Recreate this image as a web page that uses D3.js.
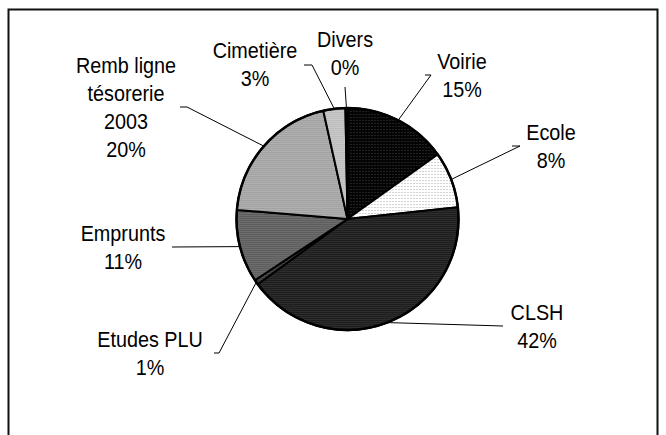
<!DOCTYPE html>
<html>
<head>
<meta charset="utf-8">
<script src="https://cdn.jsdelivr.net/npm/d3@7"></script>
<style>
  body { margin: 0; background: #fff; }
  text { font-family: "Liberation Sans", Arial, sans-serif; font-size: 22px; fill: #000; }
</style>
</head>
<body>
<div id="chart"></div>
<script>
// data, clockwise from 12 o'clock
var categories = ["Voirie", "Ecole", "CLSH", "Etudes PLU", "Emprunts", "Remb ligne\ntésorerie\n2003", "Cimetière", "Divers"];
var values = [15.1, 8.2, 41.7, 0.7, 10.6, 20.2, 3.2, 0.3];

// label layout: centre x, centre y of first line
var labelPos = [[462, 61], [551, 132], [537, 312], [150, 339], [123, 233], [126, 65], [255, 50], [345, 39]];
// where each leader line starts (near the label), [x0, x1, y]
var leaderStart = [[425, 431, 75], [512, 520, 146], [503, 503, 326], [214, 219, 353], [172, 172, 247], [180, 187, 107], [304, 312, 65], [345, 345, 87]];

var width = 666, height = 435;
var cx = 347.5, cy = 219, r = 111;
var lineH = 28;
var squeeze = 0.9; // the text in the picture is a bit narrow

var svg = d3.select("#chart").append("svg")
    .attr("width", width)
    .attr("height", height);

// textures like the old excel fills
var defs = svg.append("defs");
var fills = [
    {id: "p0", base: "#050505", dot: "#3a3a3a", size: 3},
    {id: "p1", base: "#ffffff", dot: "#a8a8a8", size: 3},
    {id: "p2", base: "#1e1e1e", dot: "#3c3c3c", size: 2},
    {id: "p3", base: "#3a3a3a", dot: "#555555", size: 2},
    {id: "p4", base: "#5e5e5e", dot: "#7c7c7c", size: 2},
    {id: "p5", base: "#a2a2a2", dot: "#bdbdbd", size: 2},
    {id: "p6", base: "#bcbcbc", dot: "#d6d6d6", size: 2},
    {id: "p7", base: "#808080", dot: "#a0a0a0", size: 2}
];
fills.forEach(function(f) {
    var p = defs.append("pattern")
        .attr("id", f.id)
        .attr("patternUnits", "userSpaceOnUse")
        .attr("width", f.size)
        .attr("height", f.size);
    p.append("rect").attr("width", f.size).attr("height", f.size).attr("fill", f.base);
    p.append("rect").attr("width", 1).attr("height", 1).attr("fill", f.dot);
});

// frame (image is cropped at the bottom)
svg.append("path")
    .attr("d", "M8.5,440V9.5H657.5V440")
    .attr("fill", "none")
    .attr("stroke", "#111")
    .attr("stroke-width", 2);

var data = categories.map(function(c, i) { return {name: c, value: values[i], i: i}; });
var total = d3.sum(values);

var pie = d3.pie().sort(null).value(function(d) { return d.value; });
var arc = d3.arc().innerRadius(0).outerRadius(r);
var edge = d3.arc().innerRadius(r).outerRadius(r);

var arcs = pie(data);

var g = svg.append("g").attr("transform", "translate(" + cx + "," + cy + ")");

g.selectAll("path.slice")
    .data(arcs)
    .enter()
    .append("path")
    .attr("class", "slice")
    .attr("d", arc)
    .attr("fill", function(d) { return "url(#p" + d.data.i + ")"; })
    .attr("stroke", "#000")
    .attr("stroke-width", 2)
    .attr("stroke-linejoin", "round");

// outer rim a bit heavier
g.append("circle")
    .attr("r", r)
    .attr("fill", "none")
    .attr("stroke", "#000")
    .attr("stroke-width", 2.5);

// leader lines
svg.selectAll("path.leader")
    .data(arcs)
    .enter()
    .append("path")
    .attr("class", "leader")
    .attr("fill", "none")
    .attr("stroke", "#000")
    .attr("stroke-width", 1)
    .attr("d", function(d) {
        var s = leaderStart[d.data.i];
        var e = edge.centroid(d);
        return "M" + s[0] + "," + s[2] + "L" + s[1] + "," + s[2] + "L" + (cx + e[0]) + "," + (cy + e[1]);
    });

// labels
arcs.forEach(function(d) {
    var i = d.data.i;
    var lines = d.data.name.split("\n");
    lines.push(Math.round(d.data.value / total * 100) + "%");
    var t = svg.append("text")
        .attr("text-anchor", "middle")
        .attr("transform", "translate(" + labelPos[i][0] + "," + labelPos[i][1] + ") scale(" + squeeze + ",1)");
    lines.forEach(function(l, k) {
        t.append("tspan")
            .attr("x", 0)
            .attr("y", k * lineH)
            .attr("dy", "0.35em")
            .text(l);
    });
});
</script>
</body>
</html>
